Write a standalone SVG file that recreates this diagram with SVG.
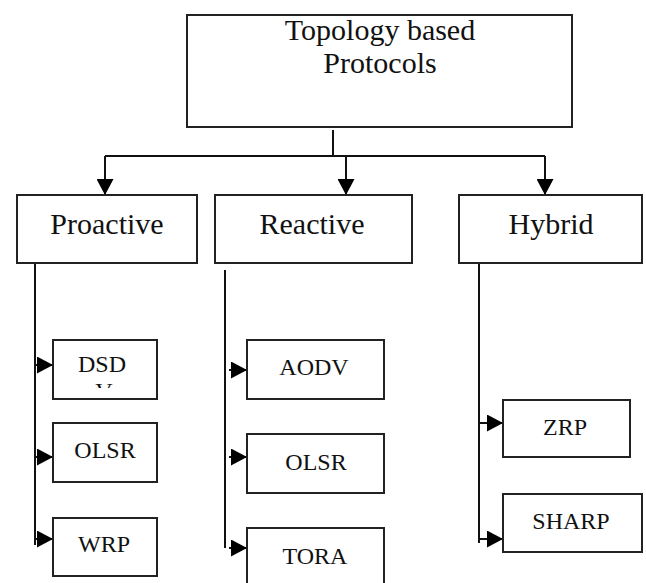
<svg xmlns="http://www.w3.org/2000/svg" width="646" height="583" viewBox="0 0 646 583">
<style>
.box{fill:#fff;stroke:#222;stroke-width:2}
.ln{fill:none;stroke:#111;stroke-width:2}
.t{font-family:"Liberation Serif","DejaVu Serif","Noto Serif",Times,serif;fill:#111;text-anchor:middle}
.big{font-size:30px}
.sm{font-size:24px}
</style>
<defs>
<marker id="ah" markerUnits="userSpaceOnUse" markerWidth="17" markerHeight="17" refX="16" refY="8.5" orient="auto">
<path d="M0,0 L16,8.5 L0,17 z" fill="#000"/>
</marker>
<clipPath id="dsdclip"><rect x="53" y="340" width="104" height="48"/></clipPath>
</defs>
<g id="connectors">
<path class="ln" d="M333,130 V156 M105,156 H545"/>
<path class="ln" d="M105,156 V195" marker-end="url(#ah)"/>
<path class="ln" d="M346,156 V195" marker-end="url(#ah)"/>
<path class="ln" d="M545,156 V195" marker-end="url(#ah)"/>
<path class="ln" d="M35,263 V545"/>
<path class="ln" d="M35,365 H53" marker-end="url(#ah)"/>
<path class="ln" d="M35,457 H53" marker-end="url(#ah)"/>
<path class="ln" d="M35,539 H53" marker-end="url(#ah)"/>
<path class="ln" d="M225,270 V548"/>
<path class="ln" d="M229,370 H247" marker-end="url(#ah)"/>
<path class="ln" d="M229,457 H247" marker-end="url(#ah)"/>
<path class="ln" d="M229,548 H247" marker-end="url(#ah)"/>
<path class="ln" d="M479,263 V543"/>
<path class="ln" d="M479,423 H503" marker-end="url(#ah)"/>
<path class="ln" d="M479,539 H503" marker-end="url(#ah)"/>
</g>
<g id="root">
<rect class="box" x="187" y="15" width="385" height="112"/>
<text class="t big" x="380" y="40">Topology based</text>
<text class="t big" x="380" y="73">Protocols</text>
</g>
<g id="proactive">
<rect class="box" x="17" y="195" width="180" height="68"/>
<text class="t big" x="107" y="234">Proactive</text>
</g>
<g id="reactive">
<rect class="box" x="215" y="195" width="197" height="68"/>
<text class="t big" x="312" y="234">Reactive</text>
</g>
<g id="hybrid">
<rect class="box" x="459" y="195" width="183" height="68"/>
<text class="t big" x="551" y="234">Hybrid</text>
</g>
<g id="dsdv">
<rect class="box" x="53" y="340" width="104" height="59"/>
<text class="t sm" x="102" y="372">DSD</text>
<text class="t sm" x="104" y="399" clip-path="url(#dsdclip)">V</text>
</g>
<g id="olsr1">
<rect class="box" x="53" y="423" width="104" height="59"/>
<text class="t sm" x="105" y="458">OLSR</text>
</g>
<g id="wrp">
<rect class="box" x="53" y="518" width="104" height="58"/>
<text class="t sm" x="104" y="552">WRP</text>
</g>
<g id="aodv">
<rect class="box" x="247" y="340" width="137" height="59"/>
<text class="t sm" x="314" y="375">AODV</text>
</g>
<g id="olsr2">
<rect class="box" x="247" y="434" width="137" height="59"/>
<text class="t sm" x="316" y="470">OLSR</text>
</g>
<g id="tora">
<rect class="box" x="247" y="528" width="137" height="70"/>
<text class="t sm" x="315" y="564">TORA</text>
</g>
<g id="zrp">
<rect class="box" x="503" y="400" width="127" height="57"/>
<text class="t sm" x="565" y="435">ZRP</text>
</g>
<g id="sharp">
<rect class="box" x="503" y="494" width="139" height="58"/>
<text class="t sm" x="571" y="529">SHARP</text>
</g>
</svg>
